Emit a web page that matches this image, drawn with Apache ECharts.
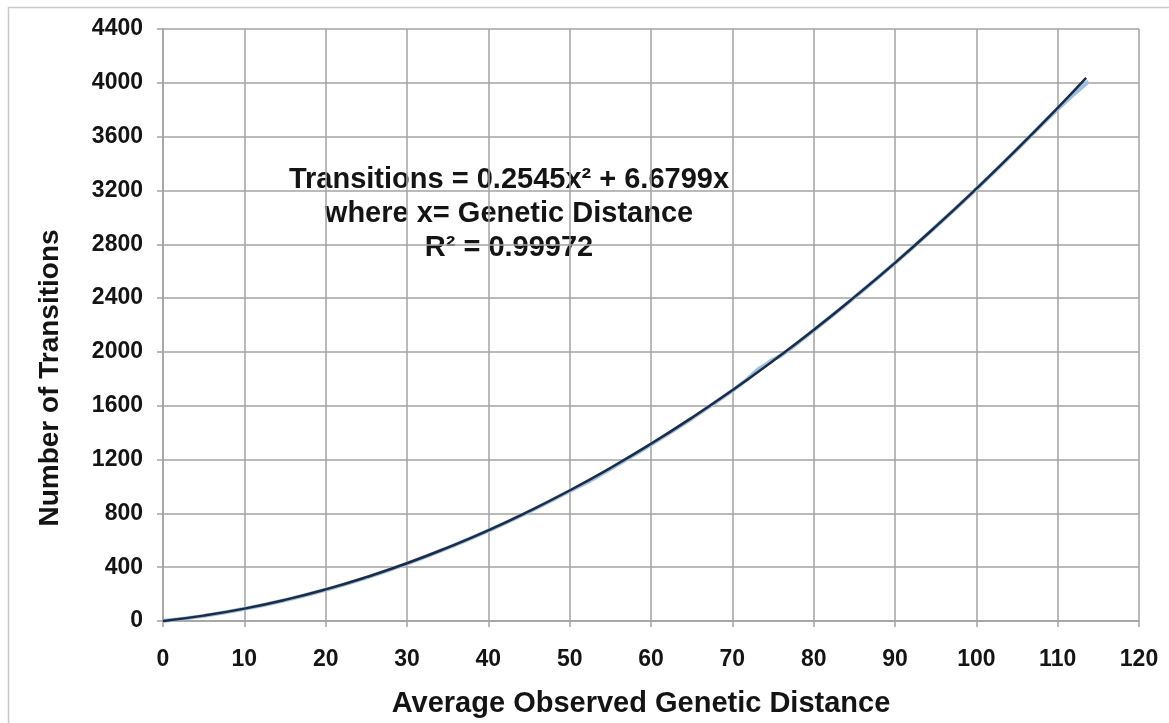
<!DOCTYPE html>
<html>
<head>
<meta charset="utf-8">
<script src="https://cdn.jsdelivr.net/npm/echarts@6/dist/echarts.min.js"></script>
<style>
html,body{margin:0;padding:0;background:#fff;}
#chart{width:1169px;height:723px;}
</style>
</head>
<body>
<div id="chart"></div>
<script>
const observedX = [0, 5, 10, 15, 20, 25, 30, 35, 40, 45, 50, 53, 55, 60, 65, 70, 72, 73, 74, 75, 76, 78, 80, 85, 90, 95, 100, 105, 110, 113.8];
const observedY = [0, 38, 90, 155, 232, 322, 427, 543, 672, 812, 966, 1060, 1130, 1312, 1505, 1712, 1805, 1862, 1902, 1942, 1975, 2065, 2160, 2405, 2660, 2930, 3210, 3505, 3805, 4010];
// Fitted trend curve (dark line)
const fitX = [0, 5, 10, 15, 20, 25, 30, 35, 40, 45, 50, 55, 60, 65, 70, 75, 80, 85, 90, 95, 100, 105, 110, 113.5];
const fitY = [0, 40, 92, 157, 235, 326, 429, 546, 674, 816, 970, 1137, 1317, 1510, 1715, 1933, 2163, 2407, 2662, 2931, 3213, 3507, 3814, 4037];
const xTicks = [0, 10, 20, 30, 40, 50, 60, 70, 80, 90, 100, 110, 120];
const yTicks = [0, 400, 800, 1200, 1600, 2000, 2400, 2800, 3200, 3600, 4000, 4400];
const xTitle = 'Average Observed Genetic Distance';
const yTitle = 'Number of Transitions';
const annotationLines = ['Transitions = 0.2545x² + 6.6799x', 'where x= Genetic Distance', 'R² = 0.99972'];

const observed = observedX.map((x, i) => [x, observedY[i]]);
const fit = fitX.map((x, i) => [x, fitY[i]]);

const font = 'Liberation Sans, Arial, Helvetica, sans-serif';
const gridColor = '#a3a3a3';
const textColor = '#141414';

const chart = echarts.init(document.getElementById('chart'), null, {renderer: 'canvas'});
chart.setOption({
  backgroundColor: '#fff',
  animation: false,
  grid: {left: 163, right: 30, top: 29, bottom: 102, containLabel: false},
  xAxis: {
    type: 'value',
    min: xTicks[0], max: xTicks[xTicks.length - 1], interval: 10,
    axisLine: {show: true, lineStyle: {color: gridColor, width: 1.5}},
    axisTick: {show: true, length: 6, lineStyle: {color: gridColor, width: 1.5}},
    axisLabel: {fontFamily: font, fontWeight: 'bold', fontSize: 23, color: textColor, margin: 27,
      formatter: v => String(v)},
    splitLine: {show: true, lineStyle: {color: gridColor, width: 1.5}}
  },
  yAxis: {
    type: 'value',
    min: yTicks[0], max: yTicks[yTicks.length - 1], interval: 400,
    axisLine: {show: true, lineStyle: {color: gridColor, width: 1.5}},
    axisTick: {show: true, length: 6, lineStyle: {color: gridColor, width: 1.5}},
    axisLabel: {fontFamily: font, fontWeight: 'bold', fontSize: 23, color: textColor, margin: 20,
      formatter: v => String(v)},
    splitLine: {show: true, lineStyle: {color: gridColor, width: 1.5}}
  },
  series: [
    {
      type: 'line', name: 'Observed', data: observed, smooth: true,
      showSymbol: false, symbol: 'none',
      lineStyle: {color: '#9cc0e0', width: 4}
    },
    {
      type: 'line', name: 'Fit', data: fit, smooth: true,
      showSymbol: false, symbol: 'none',
      lineStyle: {color: '#1d2b45', width: 2.5}
    }
  ],
  graphic: [
    {
      type: 'rect', silent: true, z: -1,
      shape: {x: 8.5, y: 7.5, width: 1180, height: 740},
      style: {fill: 'none', stroke: '#c8c8c8', lineWidth: 1.5}
    },
    {
      type: 'text', x: 509, y: 163, silent: true,
      style: {
        text: annotationLines.join('\n'),
        textAlign: 'center', textVerticalAlign: 'top',
        font: 'bold 29px ' + font, fill: textColor, lineHeight: 34
      }
    },
    {
      type: 'text', x: 641, y: 704, silent: true,
      style: {
        text: xTitle, textAlign: 'center', textVerticalAlign: 'middle',
        font: 'bold 29px ' + font, fill: textColor
      }
    },
    {
      type: 'text', x: 50, y: 378, rotation: Math.PI / 2, silent: true,
      style: {
        text: yTitle, textAlign: 'center', textVerticalAlign: 'middle',
        font: 'bold 28px ' + font, fill: textColor
      }
    }
  ]
});
</script>
</body>
</html>
